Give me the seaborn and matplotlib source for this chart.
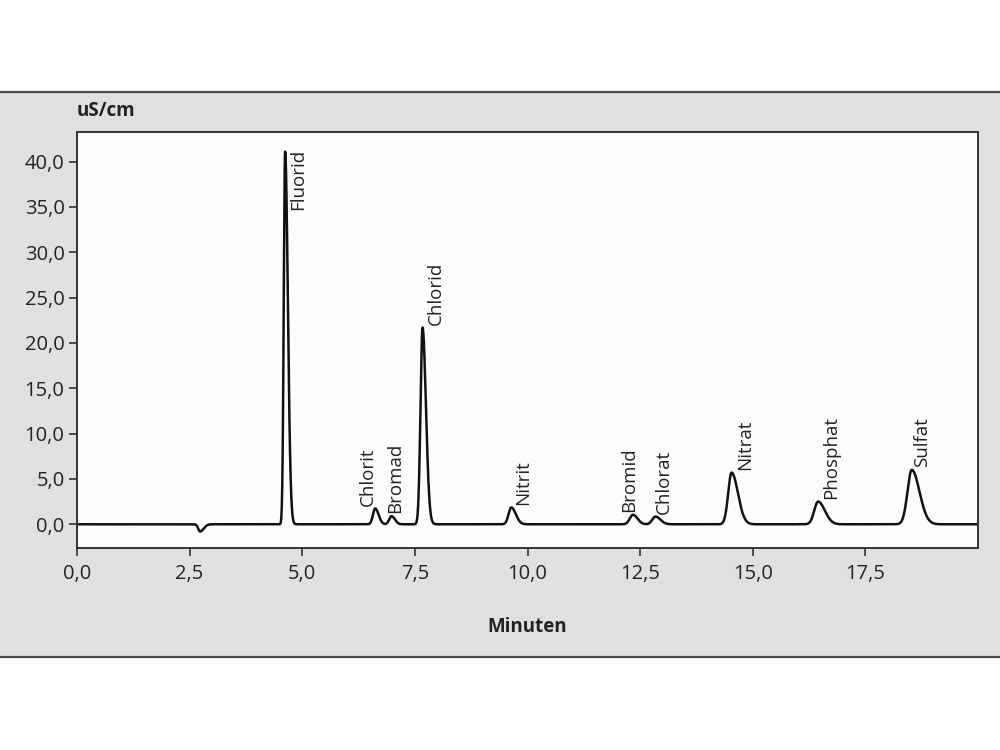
import numpy as np
import pandas as pd
import matplotlib.pyplot as plt
from matplotlib.patches import Rectangle
from matplotlib.lines import Line2D
import seaborn as sns

peak_names = ["", "Fluorid", "Chlorit", "Bromad", "Chlorid", "Nitrit",
              "Bromid", "Chlorat", "Nitrat", "Phosphat", "Sulfat"]
peak_times = [2.73, 4.62, 6.62, 6.98, 7.67, 9.64, 12.34, 12.84, 14.53, 16.45, 18.53]
peak_heights = [-0.8, 41.1, 1.75, 0.9, 21.7, 1.85, 1.05, 0.85, 5.7, 2.5, 6.0]
peak_sigma_left = [0.04, 0.03, 0.05, 0.05, 0.045, 0.06, 0.07, 0.07, 0.075, 0.085, 0.095]
peak_sigma_right = [0.08, 0.06, 0.075, 0.075, 0.075, 0.10, 0.10, 0.11, 0.14, 0.15, 0.17]

x_ticks = [0, 2.5, 5, 7.5, 10, 12.5, 15, 17.5]
y_ticks = [0, 5, 10, 15, 20, 25, 30, 35, 40]

# Verlauf des Signals aus den Peaks zusammensetzen
t = np.linspace(0, 20, 4001)
signal = np.zeros_like(t)
for tr, h, sl, sr in zip(peak_times, peak_heights, peak_sigma_left, peak_sigma_right):
    s = np.where(t < tr, sl, sr)
    signal += h * np.exp(-0.5 * ((t - tr) / s) ** 2)
df = pd.DataFrame({"Minuten": t, "Signal": signal})

sns.set_theme(style="ticks")
plt.rcParams["font.family"] = ["Open Sans", "DejaVu Sans"]

fig = plt.figure(figsize=(10, 7.5), dpi=100)
fig.patch.set_facecolor("white")

# grauer Hintergrundstreifen mit Linien oben und unten
band_bottom, band_top = 1 - 657 / 750, 1 - 92 / 750
fig.patches.append(Rectangle((0, band_bottom), 1, band_top - band_bottom,
                             transform=fig.transFigure, facecolor="#e0e0e0",
                             edgecolor="none", zorder=-10))
for yy in (band_bottom, band_top):
    fig.lines.append(Line2D([0, 1], [yy, yy], transform=fig.transFigure,
                            color="#4a4a4a", lw=1.6, zorder=-5))

ax = fig.add_axes([0.077, 1 - 548.3 / 750, 0.901, (548.3 - 131.7) / 750])
ax.set_facecolor("#fdfdfc")

sns.lineplot(data=df, x="Minuten", y="Signal", ax=ax, color="#111111", lw=1.8)

ax.set_xlim(0, 20)
ax.set_ylim(-2.65, 43.3)
ax.set_xticks(x_ticks)
ax.set_yticks(y_ticks)
ax.set_xticklabels([f"{v:.1f}".replace(".", ",") for v in x_ticks])
ax.set_yticklabels([f"{v:.1f}".replace(".", ",") for v in y_ticks])
ax.tick_params(axis="both", direction="out", length=6, width=1.2,
               color="#333333", labelsize=14.5, labelcolor="#222222", pad=3)
ax.tick_params(axis="x", pad=5)
for sp in ax.spines.values():
    sp.set_visible(True)
    sp.set_color("#333333")
    sp.set_linewidth(1.4)

ax.set_xlabel("Minuten", fontsize=13.5, fontweight="bold", color="#222222", labelpad=24)
ax.set_ylabel("")
fig.text(0.077, 1 - 111 / 750, "uS/cm", fontsize=13.5, fontweight="bold",
         color="#222222", ha="left", va="center")

# Beschriftungen der Peaks (senkrecht, rechts neben dem Peak)
label_dx = [0, 13, -7, 4, 13, 12, -4, 8, 14, 13, 10]
for name, tr, h, dx in zip(peak_names, peak_times, peak_heights, label_dx):
    if not name:
        continue
    va = "top" if name == "Fluorid" else "bottom"
    ax.annotate(name, (tr, h), xytext=(dx * 0.72, 2), textcoords="offset points",
                rotation=90, ha="center", va=va, fontsize=13.5, color="#222222")

fig.savefig("out.png", dpi=100)
